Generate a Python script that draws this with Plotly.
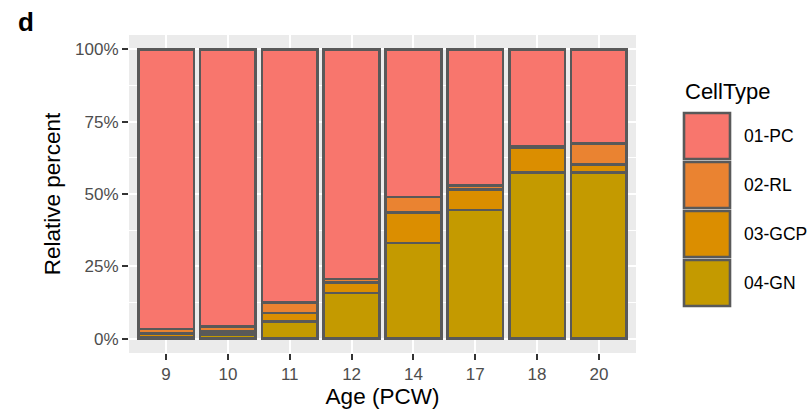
import plotly.graph_objects as go

ages = ["9", "10", "11", "12", "14", "17", "18", "20"]
cell_types = ["01-PC", "02-RL", "03-GCP", "04-GN"]
pc = [96.7, 95.8, 87.5, 79.4, 51.1, 47.1, 33.5, 32.5]
rl = [1.5, 1.7, 3.7, 1.2, 5.2, 1.3, 0.5, 7.2]
gcp = [1.4, 1.2, 2.8, 3.6, 10.7, 7.1, 8.6, 2.9]
gn = [0.4, 1.3, 6.0, 15.8, 33.0, 44.5, 57.4, 57.4]
colors = {"01-PC": "#F8766D", "02-RL": "#EA8331", "03-GCP": "#DB8E00", "04-GN": "#C49A00"}
y_ticks = [0, 25, 50, 75, 100]
y_tick_text = ["0%", "25%", "50%", "75%", "100%"]

values = {"01-PC": pc, "02-RL": rl, "03-GCP": gcp, "04-GN": gn}
FONT = "Liberation Sans, Arial, Helvetica, sans-serif"
EDGE = "#595959"

fig = go.Figure()
for ct in reversed(cell_types):
    fig.add_trace(go.Bar(
        x=ages, y=values[ct], name=ct, width=0.9,
        marker=dict(color=colors[ct], line=dict(color=EDGE, width=2.6)),
        showlegend=False,
    ))

W, H = 812, 416
L, R, T, B = 129, 636, 35, 353


def px(x):
    return (x - L) / (R - L)


def py(y):
    return (B - y) / (B - T)


shapes = []
annotations = []
annotations.append(dict(text="CellType", x=px(683), y=py(92), xref="paper", yref="paper",
                        xanchor="left", yanchor="middle", showarrow=False,
                        font=dict(family=FONT, size=22, color="#000000")))
for i, ct in enumerate(cell_types):
    top = 113 + 49 * i
    shapes.append(dict(type="rect", xref="paper", yref="paper",
                       x0=px(684), x1=px(730), y0=py(top + 46), y1=py(top),
                       fillcolor=colors[ct], line=dict(color=EDGE, width=2.6)))
    annotations.append(dict(text=ct, x=px(742), y=py(top + 23), xref="paper", yref="paper",
                            xanchor="left", yanchor="middle", showarrow=False,
                            font=dict(family=FONT, size=17.5, color="#000000")))
annotations.append(dict(text="<b>d</b>", x=px(16), y=py(22), xref="paper", yref="paper",
                        xanchor="left", yanchor="middle", showarrow=False,
                        font=dict(family=FONT, size=26, color="#000000")))

fig.update_layout(
    width=W, height=H, barmode="stack", bargap=0.1,
    margin=dict(l=L, r=W - R, t=T, b=H - B, pad=0),
    paper_bgcolor="white", plot_bgcolor="#EBEBEB",
    font=dict(family=FONT, size=17, color="#4D4D4D"),
    shapes=shapes, annotations=annotations,
)
fig.update_xaxes(
    type="category", range=[-0.6, 7.6], showgrid=True, gridcolor="white", gridwidth=1.5,
    ticks="outside", ticklen=6, tickwidth=1.5, tickcolor="#333333",
    tickfont=dict(family=FONT, size=17, color="#4D4D4D"),
    title=dict(text="Age (PCW)", font=dict(family=FONT, size=22.5, color="#000000"), standoff=4),
    zeroline=False, showline=False,
)
fig.update_yaxes(
    range=[-5, 105], tickvals=y_ticks, ticktext=y_tick_text, showgrid=True,
    gridcolor="white", gridwidth=1.5,
    minor=dict(tickvals=[12.5, 37.5, 62.5, 87.5], showgrid=True, gridcolor="white", gridwidth=0.7),
    ticks="outside", ticklen=6, tickwidth=1.5, tickcolor="#333333",
    tickfont=dict(family=FONT, size=17, color="#4D4D4D"),
    title=dict(text="Relative percent", font=dict(family=FONT, size=22.5, color="#000000"), standoff=8),
    zeroline=False, showline=False,
)

fig.write_html("out.html", config={"displayModeBar": False},
               post_script="document.body.style.margin='0';document.body.style.padding='0';")
